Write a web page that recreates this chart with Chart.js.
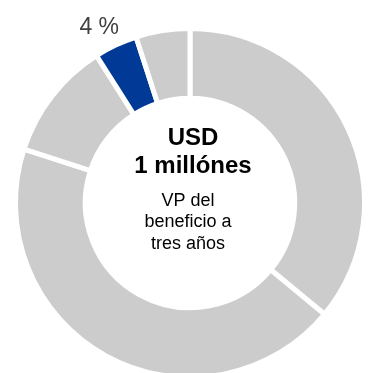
<!DOCTYPE html>
<html>
<head>
<meta charset="utf-8">
<script src="https://cdn.jsdelivr.net/npm/chart.js@4"></script>
<style>
  html, body { margin: 0; padding: 0; background: #fff; overflow: hidden; }
  #wrap { position: absolute; left: 0; top: 0; width: 380px; height: 385px; }
</style>
</head>
<body>
<div id="wrap"><canvas id="donut"></canvas></div>
<script>
// Shares of the three-year benefit (percent)
const segments = ['A', 'B', 'C', 'D', 'E'];
const shares = [36, 44, 11, 4, 5];
const highlightIndex = 3;
const centerTitle = ['USD', '1 millónes'];
const centerNote = ['VP del', 'beneficio a', 'tres años'];

const grey = '#cccccc';
const blue = '#003a96';

// draws the headline text in the hole and the percent tag over the highlighted slice
const donutText = {
    id: 'donutText',
    afterDraw(chart) {
        const ctx = chart.ctx;
        const arc = chart.getDatasetMeta(0).data[highlightIndex];
        const cx = arc.x, cy = arc.y;
        ctx.save();
        ctx.textAlign = 'center';
        ctx.textBaseline = 'middle';

        ctx.fillStyle = '#000';
        ctx.font = 'bold 24px "Liberation Sans", Arial, sans-serif';
        ctx.fillText(centerTitle[0], cx + 3, cy - 65);
        ctx.fillText(centerTitle[1], cx + 3, cy - 37);

        ctx.font = '18px "Liberation Sans", Arial, sans-serif';
        centerNote.forEach((line, i) => {
            ctx.fillText(line, cx - 2, cy - 2 + i * 21.5);
        });

        // tag sits a little left of the slice's mid angle
        const mid = (arc.startAngle + arc.endAngle) / 2 - 0.03;
        const r = arc.outerRadius + 26;
        ctx.fillStyle = '#404040';
        ctx.font = '23px "Liberation Sans", Arial, sans-serif';
        ctx.fillText(shares[highlightIndex] + ' %', cx + Math.cos(mid) * r, cy + Math.sin(mid) * r + 3);
        ctx.restore();
    }
};

const ctx = document.getElementById('donut').getContext('2d');
new Chart(ctx, {
    type: 'doughnut',
    data: {
        labels: segments,
        datasets: [{
            data: shares,
            backgroundColor: shares.map((v, i) => i === highlightIndex ? blue : grey),
            borderColor: '#ffffff',
            borderWidth: 5
        }]
    },
    options: {
        responsive: true,
        maintainAspectRatio: false,
        animation: false,
        cutout: '60%',
        layout: {
            padding: { left: 13, right: 13, top: 26, bottom: 5 }
        },
        plugins: {
            legend: { display: false },
            tooltip: { enabled: false }
        }
    },
    plugins: [donutText]
});
</script>
</body>
</html>
